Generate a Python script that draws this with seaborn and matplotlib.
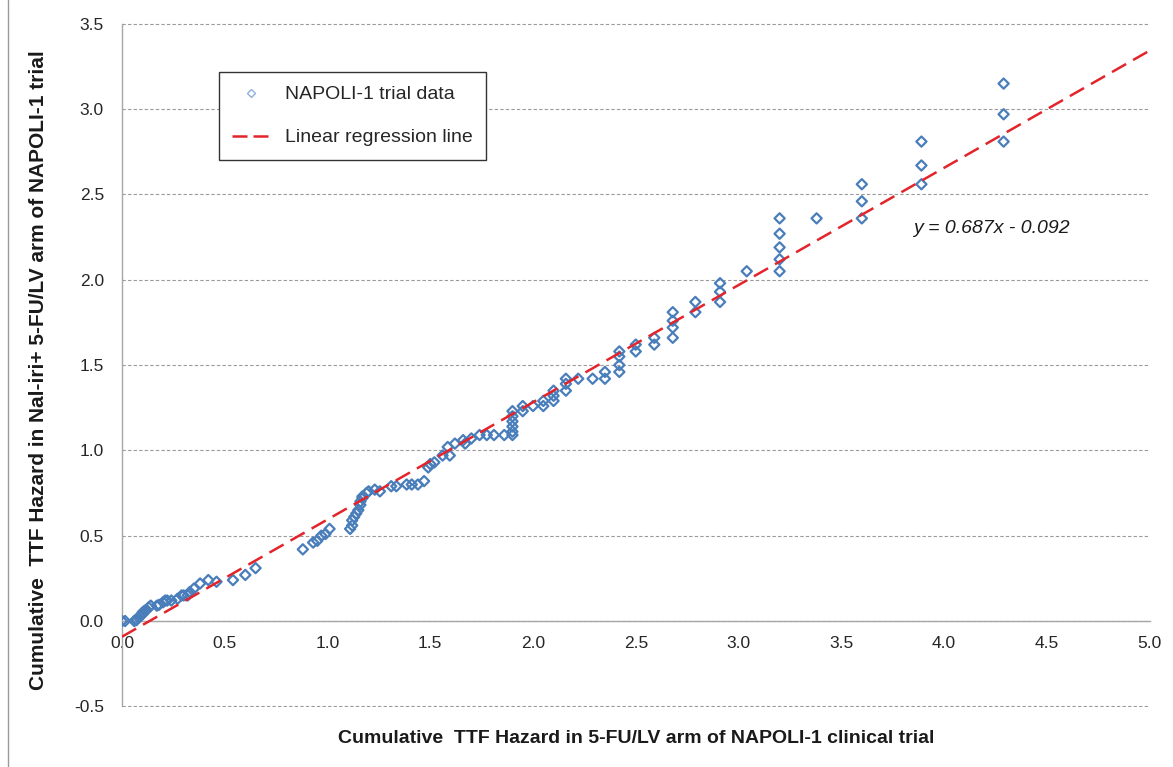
import numpy as np
import pandas as pd
import matplotlib
matplotlib.use("Agg")
import matplotlib.pyplot as plt
import seaborn as sns
from matplotlib.lines import Line2D
from matplotlib.ticker import FormatStrFormatter, MultipleLocator

# ---- data ----
hazard_5fu = [
    0.00, 0.015,
    0.06, 0.07, 0.07, 0.08, 0.09, 0.10, 0.10, 0.11, 0.12, 0.13, 0.14,
    0.17, 0.18, 0.20, 0.21, 0.22, 0.24,
    0.27, 0.29, 0.30, 0.32, 0.33, 0.35,
    0.38, 0.42, 0.46, 0.54, 0.60, 0.65,
    0.88, 0.93, 0.95, 0.97, 0.99, 1.01,
    1.11, 1.12, 1.12, 1.13, 1.14, 1.15, 1.16, 1.16, 1.17, 1.17, 1.19, 1.20,
    1.23, 1.255, 1.31, 1.335,
    1.385, 1.41, 1.44, 1.47,
    1.49, 1.50, 1.52,
    1.56, 1.585, 1.595, 1.62, 1.66, 1.67, 1.70, 1.74, 1.775, 1.81, 1.86,
    1.90, 1.90, 1.90, 1.90, 1.90, 1.90,
    1.95, 1.95, 2.00, 2.05, 2.05, 2.10, 2.10, 2.10,
    2.16, 2.16, 2.16, 2.22, 2.29, 2.35, 2.35,
    2.42, 2.42, 2.42, 2.42, 2.50, 2.50, 2.59, 2.59,
    2.68, 2.68, 2.68, 2.68,
    2.79, 2.79, 2.91, 2.91, 2.91, 3.04,
    3.20, 3.20, 3.20, 3.20, 3.20, 3.38,
    3.60, 3.60, 3.60, 3.89, 3.89, 3.89, 4.29, 4.29, 4.29,
]
hazard_nal = [
    0.00, 0.00,
    0.00, 0.005, 0.01, 0.02, 0.03, 0.04, 0.05, 0.06, 0.065, 0.08, 0.09,
    0.09, 0.095, 0.11, 0.12, 0.12, 0.12,
    0.13, 0.15, 0.15, 0.15, 0.17, 0.19,
    0.22, 0.24, 0.23, 0.24, 0.27, 0.31,
    0.42, 0.46, 0.47, 0.50, 0.51, 0.54,
    0.54, 0.56, 0.59, 0.61, 0.63, 0.65, 0.68, 0.70, 0.72, 0.73, 0.75, 0.76,
    0.77, 0.76, 0.79, 0.79,
    0.80, 0.80, 0.80, 0.82,
    0.90, 0.92, 0.93,
    0.97, 1.02, 0.97, 1.04, 1.06, 1.04, 1.07, 1.09, 1.09, 1.09, 1.09,
    1.09, 1.11, 1.14, 1.17, 1.20, 1.23,
    1.26, 1.23, 1.26, 1.29, 1.26, 1.35, 1.32, 1.29,
    1.42, 1.39, 1.35, 1.42, 1.42, 1.46, 1.42,
    1.58, 1.55, 1.50, 1.46, 1.62, 1.58, 1.66, 1.62,
    1.81, 1.76, 1.72, 1.66,
    1.87, 1.81, 1.98, 1.93, 1.87, 2.05,
    2.36, 2.27, 2.19, 2.12, 2.05, 2.36,
    2.56, 2.46, 2.36, 2.81, 2.67, 2.56, 3.15, 2.97, 2.81,
]
reg_slope = 0.687
reg_intercept = -0.092
reg_x = [0.0, 5.0]
equation_label = "y = 0.687x - 0.092"
x_label = "Cumulative  TTF Hazard in 5-FU/LV arm of NAPOLI-1 clinical trial"
y_label = "Cumulative  TTF Hazard in Nal-iri+ 5-FU/LV arm of NAPOLI-1 trial"
series_labels = ["NAPOLI-1 trial data", "Linear regression line"]

df = pd.DataFrame({"x": hazard_5fu, "y": hazard_nal})
reg_df = pd.DataFrame({"x": reg_x, "y": [reg_slope * v + reg_intercept for v in reg_x]})

# ---- style ----
sns.set_theme(style="white")
plt.rcParams["font.family"] = ["Liberation Sans", "DejaVu Sans"]
plt.rcParams["axes.unicode_minus"] = False

blue = "#4A7EBB"
red = "#E3242B"
gray = "#A6A6A6"

fig = plt.figure(figsize=(11.73, 7.67), dpi=100)
ax = fig.add_axes([0.104, 0.078, 0.876, 0.892])

# gridlines
ax.set_axisbelow(True)
ax.yaxis.grid(True, color="#9A9A9A", linestyle=(0, (3, 2)), linewidth=0.8)
ax.xaxis.grid(False)

sns.scatterplot(data=df, x="x", y="y", ax=ax, marker="D", s=27,
                facecolors="none", edgecolor=blue, linewidth=1.6, zorder=3)
sns.lineplot(data=reg_df, x="x", y="y", ax=ax, color=red, linewidth=1.8,
             zorder=4)
ax.lines[-1].set_dashes((6.5, 3.2))

ax.set_xlim(0, 5)
ax.set_ylim(-0.505, 3.505)
ax.xaxis.set_major_locator(MultipleLocator(0.5))
ax.yaxis.set_major_locator(MultipleLocator(0.5))
ax.xaxis.set_major_formatter(FormatStrFormatter("%.1f"))
ax.yaxis.set_major_formatter(FormatStrFormatter("%.1f"))

for side in ["top", "right"]:
    ax.spines[side].set_visible(False)
ax.spines["bottom"].set_position(("data", 0))
ax.spines["left"].set_bounds(-0.5, 3.5)
for side in ["bottom", "left"]:
    ax.spines[side].set_color(gray)
    ax.spines[side].set_linewidth(1.0)
ax.tick_params(axis="both", which="major", direction="out", length=5,
               color=gray, width=1.0, labelsize=12.5, labelcolor="#262626")
ax.tick_params(axis="x", pad=6)
ax.tick_params(axis="y", pad=8)

ax.set_xlabel(x_label, fontsize=14, fontweight="bold", color="#1A1A1A")
ax.set_ylabel(y_label, fontsize=15, fontweight="bold", color="#1A1A1A")
ax.xaxis.set_label_coords(0.5, -0.034)
ax.yaxis.set_label_coords(-0.072, 0.493)

ax.text(3.85, 2.30, equation_label, fontsize=14, style="italic",
        color="#1A1A1A", ha="left", va="center")

handles = [
    Line2D([], [], marker="D", linestyle="none", markersize=4.5,
           markerfacecolor="none", markeredgecolor="#8EB1DA", markeredgewidth=1.0),
    Line2D([], [], color=red, linewidth=1.8, dashes=(6, 2.4)),
]
leg = ax.legend(handles, series_labels, loc="upper left",
                bbox_to_anchor=(0.094, 0.928), fontsize=14, frameon=True,
                fancybox=False, shadow=False, borderpad=0.7,
                labelspacing=1.3, handlelength=1.9, handletextpad=0.8,
                borderaxespad=0)
leg.get_frame().set_edgecolor("#333333")
leg.get_frame().set_linewidth(1.0)
leg.get_frame().set_alpha(1)

fig.add_artist(Line2D([0.0072, 0.0072], [0.0, 1.0], transform=fig.transFigure,
                      color="#9A9A9A", linewidth=1.0))

fig.savefig("out.png", dpi=100)
